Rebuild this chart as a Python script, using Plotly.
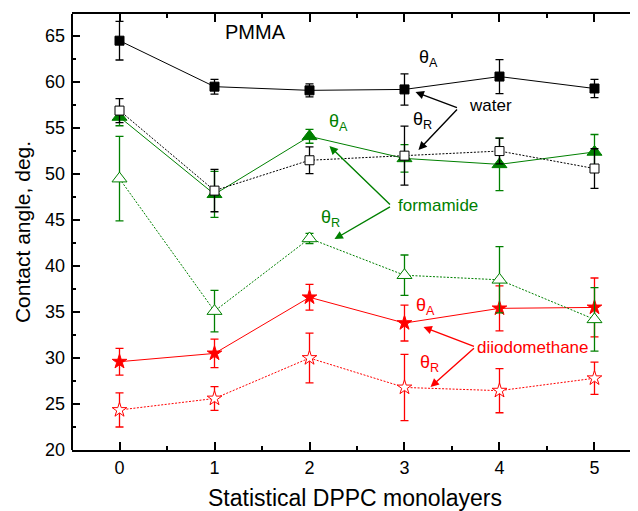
import plotly.graph_objects as go

layers = [0, 1, 2, 3, 4, 5]

water_adv = [64.5, 59.5, 59.1, 59.2, 60.6, 59.3]
water_adv_err = [2.1, 0.8, 0.7, 1.7, 1.85, 1.0]
water_rec = [56.9, 48.2, 51.5, 52.0, 52.5, 50.6]
water_rec_err = [1.3, 2.3, 1.45, 3.2, 1.4, 2.15]

form_adv = [56.2, 47.8, 54.1, 51.7, 51.05, 52.4]
form_adv_err = [0.95, 2.5, 0.75, 1.5, 2.85, 1.9]
form_rec = [49.5, 35.1, 43.0, 39.0, 38.5, 34.2]
form_rec_err = [4.6, 2.25, 0.55, 2.2, 3.6, 3.45]

diio_adv = [29.6, 30.5, 36.6, 33.8, 35.4, 35.5]
diio_adv_err = [1.45, 1.55, 1.4, 1.95, 2.45, 3.2]
diio_rec = [24.35, 25.6, 30.0, 26.8, 26.45, 27.8]
diio_rec_err = [1.85, 1.3, 2.7, 3.6, 2.4, 1.75]

x_ticks = [0, 1, 2, 3, 4, 5]
y_ticks = [20, 25, 30, 35, 40, 45, 50, 55, 60, 65]

BLACK = "#000000"
GREEN = "#008000"
RED = "#ff0000"
DOTTED = "2px,1.5px"

fig = go.Figure()


def add_series(y, err, color, dash, symbol, size, fill):
    fig.add_trace(go.Scatter(
        x=layers, y=y, mode="lines+markers",
        line=dict(color=color, width=1, dash=dash),
        marker=dict(symbol=symbol, size=size, color=fill,
                    line=dict(color=color, width=1)),
        error_y=dict(type="data", array=err, visible=True, color=color,
                     thickness=1.3, width=4),
        showlegend=False,
    ))


add_series(diio_rec, diio_rec_err, RED, DOTTED, "star", 11, "white")
add_series(diio_adv, diio_adv_err, RED, "solid", "star", 11, RED)
add_series(form_rec, form_rec_err, GREEN, DOTTED, "triangle-up", 13, "white")
add_series(form_adv, form_adv_err, GREEN, "solid", "triangle-up", 13, GREEN)
add_series(water_rec, water_rec_err, BLACK, DOTTED, "square", 9, "white")
add_series(water_adv, water_adv_err, BLACK, "solid", "square", 9, BLACK)

FONT = "Liberation Sans, Arial, sans-serif"

# text labels
labels = [
    (1.43, 65.4, "PMMA", BLACK, 20),
    (3.25, 62.6, "θ<sub>A</sub>", BLACK, 18),
    (3.19, 55.8, "θ<sub>R</sub>", BLACK, 18),
    (3.905, 57.5, "water", BLACK, 17),
    (2.31, 55.6, "θ<sub>A</sub>", GREEN, 18),
    (2.22, 45.2, "θ<sub>R</sub>", GREEN, 18),
    (3.35, 46.6, "formamide", GREEN, 17),
    (3.22, 35.6, "θ<sub>A</sub>", RED, 18),
    (3.26, 29.4, "θ<sub>R</sub>", RED, 18),
    (4.35, 31.1, "diiodomethane", RED, 17),
]
for x, y, t, c, s in labels:
    fig.add_annotation(x=x, y=y, xref="x", yref="y", text=t, showarrow=False,
                       font=dict(family=FONT, size=s, color=c))

# arrows: (tail_x, tail_y, tip_x, tip_y, color)
arrows = [
    (3.568, 57.17, 3.116, 58.91, BLACK),
    (3.568, 57.17, 3.147, 52.61, BLACK),
    (2.863, 46.52, 2.21, 53.04, GREEN),
    (2.863, 46.52, 2.263, 42.93, GREEN),
    (3.747, 31.2, 3.2, 33.37, RED),
    (3.747, 31.2, 3.274, 26.85, RED),
]
for tx, ty, hx, hy, c in arrows:
    fig.add_annotation(x=hx, y=hy, ax=tx, ay=ty, xref="x", yref="y",
                       axref="x", ayref="y", text="", showarrow=True,
                       arrowhead=2, arrowsize=1.2, arrowwidth=1.4,
                       arrowcolor=c, standoff=0)

# left axis line
fig.add_shape(type="line", xref="paper", yref="paper", x0=0, x1=0, y0=0, y1=1,
              line=dict(color="black", width=2))

fig.update_layout(
    width=630, height=503,
    margin=dict(l=64, r=0, t=6, b=61),
    paper_bgcolor="white", plot_bgcolor="white",
    font=dict(family=FONT, color="black"),
    xaxis=dict(
        range=[-0.5, 5.458], tickvals=x_ticks, ticks="inside", ticklen=8,
        tickwidth=1.5, tickcolor="black", showline=True, linewidth=2,
        linecolor="black", mirror="ticks", showgrid=False, zeroline=False,
        tickfont=dict(size=18), ticklabelstandoff=0,
        minor=dict(dtick=0.5, ticks="inside", ticklen=4, tickwidth=1.5,
                   tickcolor="black", showgrid=False),
        title=dict(text="Statistical DPPC monolayers", font=dict(size=23),
                   standoff=13),
    ),
    yaxis=dict(
        range=[20, 67.4], tickvals=y_ticks, ticks="inside", ticklen=8,
        tickwidth=1.5, tickcolor="black", showline=False,
        mirror="ticks", showgrid=False, zeroline=False,
        tickfont=dict(size=18), ticklabelstandoff=6,
        minor=dict(dtick=2.5, ticks="inside", ticklen=4, tickwidth=1.5,
                   tickcolor="black", showgrid=False),
        title=dict(text="Contact angle, deg.", font=dict(size=21),
                   standoff=8),
    ),
)

fig.write_html("out.html")
